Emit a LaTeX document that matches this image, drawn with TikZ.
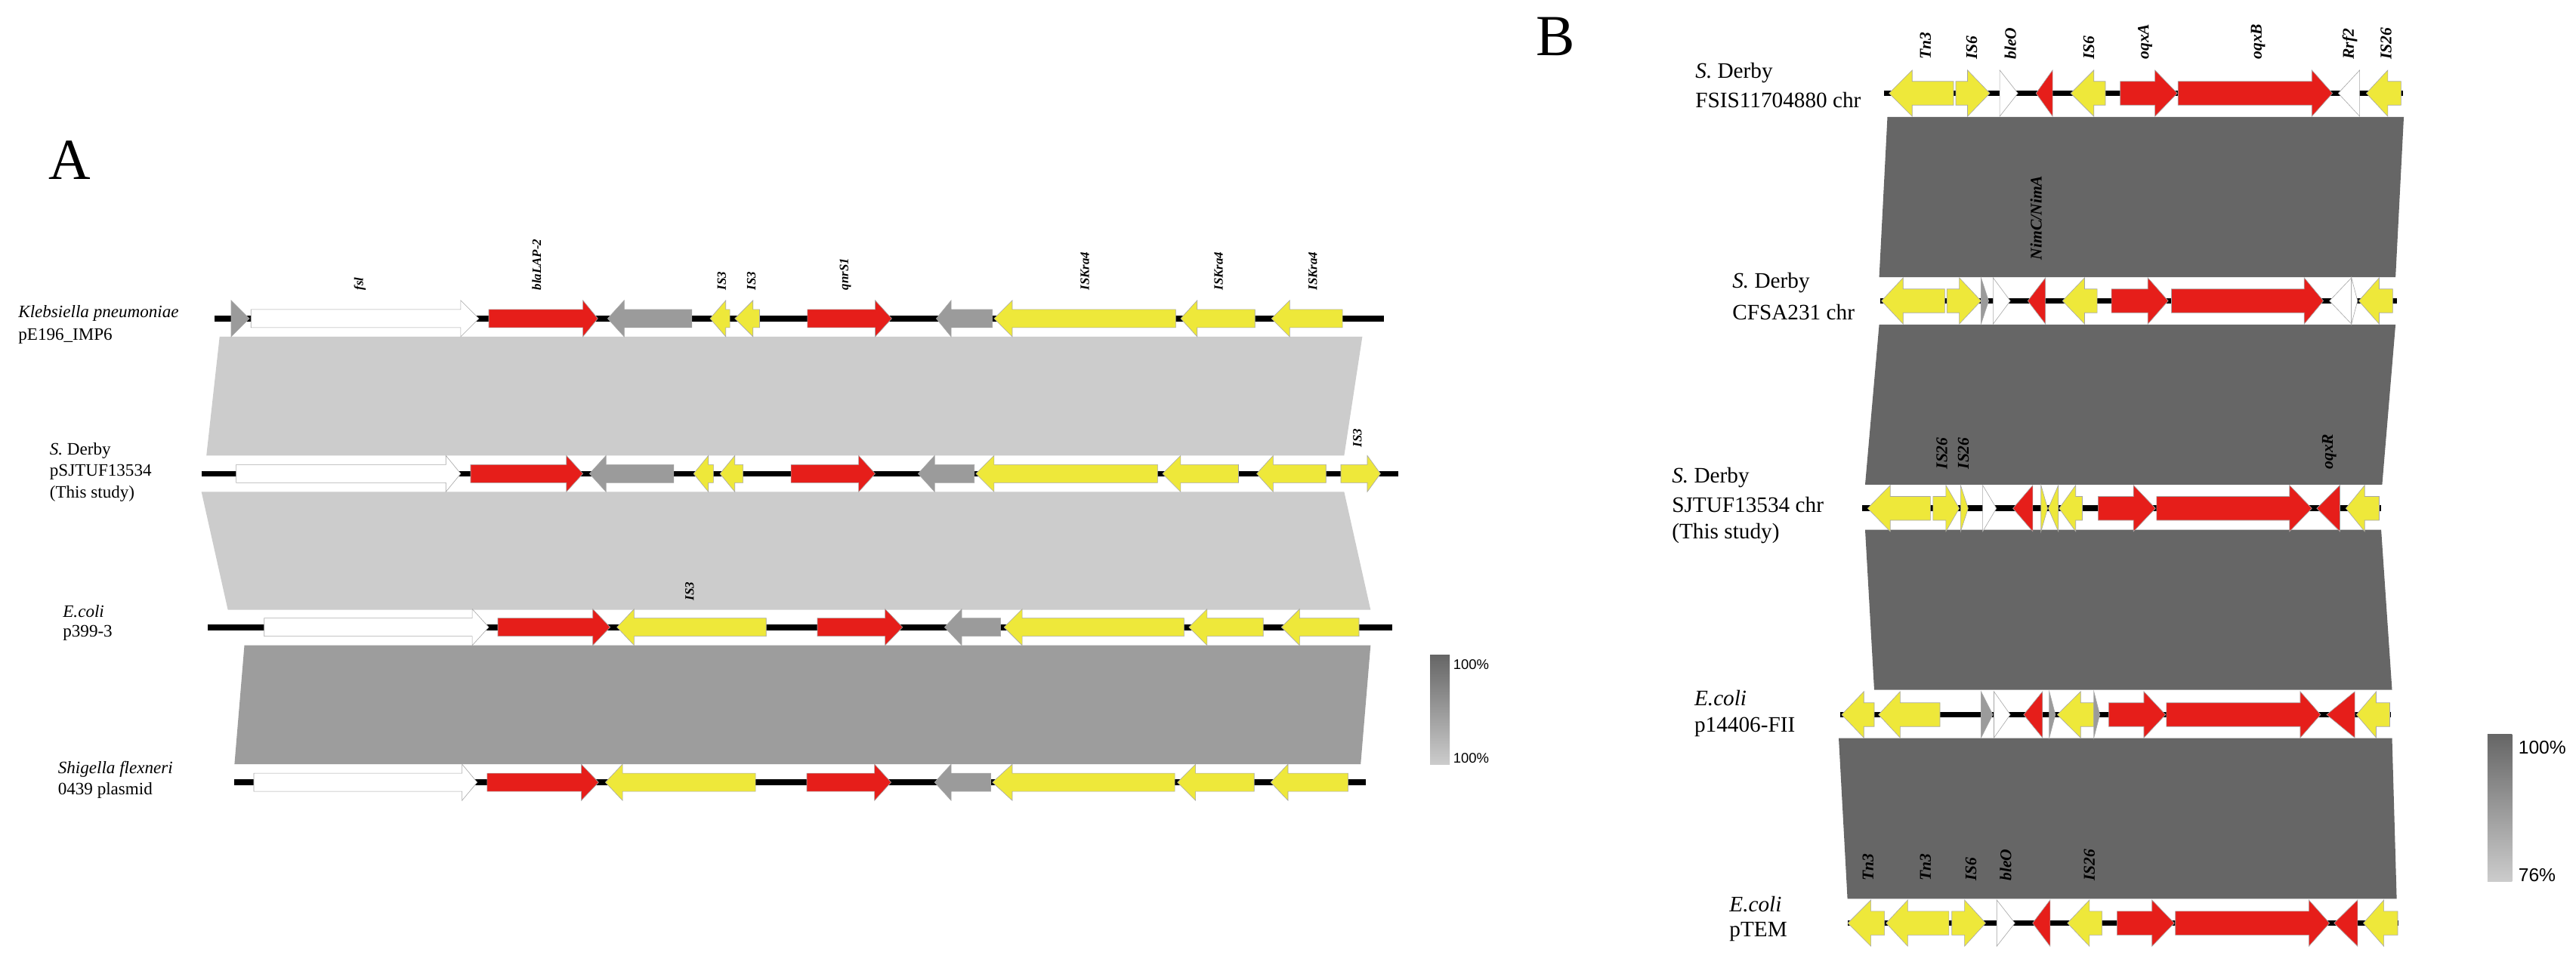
\documentclass[tikz,border=0pt]{standalone}
\usepackage{fontspec}
\setmainfont{Liberation Serif}
\newfontfamily\lsans{Liberation Sans}
\begin{document}
\begin{tikzpicture}[x=1.42pt,y=-1.42pt,
  genestyle/.style={draw=black!35,line width=0.4pt},
  backbone/.style={line width=5pt,black},
  glabA/.style={rotate=90,anchor=west,font=\fontsize{11}{11}\selectfont\bfseries\itshape,inner sep=0pt},
  glabB/.style={rotate=90,anchor=west,font=\fontsize{14}{14}\selectfont\bfseries\itshape,inner sep=0pt},
  rlabA/.style={anchor=west,font=\fontsize{15}{15}\selectfont,inner sep=0pt},
  rlabB/.style={anchor=west,font=\fontsize{19}{19}\selectfont,inner sep=0pt}]
\definecolor{gred}{HTML}{E61E1A}
\definecolor{gyel}{HTML}{EEE83A}
\definecolor{ggry}{HTML}{9B9B9B}
\definecolor{bandL}{HTML}{CCCCCC}
\definecolor{bandM}{HTML}{9D9D9D}
\definecolor{bandD}{HTML}{666666}
\newcommand\genearrow[5]{\filldraw[genestyle,fill=#5] (#1,#4-\gB)--(#2,#4-\gB)--(#2,#4-\gH)--(#3,#4)--(#2,#4+\gH)--(#2,#4+\gB)--(#1,#4+\gB)--cycle;}
\useasboundingbox[fill=white] (0,0) rectangle (1560,588);
% ---------------- Panel A ----------------
\def\gH{11}\def\gB{5.5}
\node[font=\fontsize{50}{50}\selectfont] (labA) at (42,97) {A};
\fill[bandL] (133,204)--(825,204)--(814,276)--(125,276)--cycle;
\fill[bandL] (122,298)--(814,298)--(830,369.5)--(138,369.5)--cycle;
\fill[bandM] (148,391)--(830,391)--(824,463)--(142,463)--cycle;
% row 1
\draw[backbone] (130,193)--(838,193);
\genearrow{140}{140}{151}{193}{ggry}
\genearrow{152}{279}{290}{193}{white}
\genearrow{296}{353}{362}{193}{gred}
\genearrow{419}{378}{368}{193}{ggry}
\genearrow{442}{439.5}{430}{193}{gyel}
\genearrow{460}{456}{445}{193}{gyel}
\genearrow{489}{530}{540}{193}{gred}
\genearrow{601}{576}{567}{193}{ggry}
\genearrow{712}{613}{602}{193}{gyel}
\genearrow{760}{725}{715}{193}{gyel}
\genearrow{813}{781}{770}{193}{gyel}
\node[glabA] (a1) at (218,176) {fsl};
\node[glabA] (a2) at (325,176) {blaLAP-2};
\node[glabA] (a3) at (437,176) {IS3};
\node[glabA] (a4) at (455,176) {IS3};
\node[glabA] (a5) at (512,176) {qnrS1};
\node[glabA] (a6) at (657,176) {ISKra4};
\node[glabA] (a7) at (738,176) {ISKra4};
\node[glabA] (a8) at (795,176) {ISKra4};
\node[rlabA] (r1a) at (11,190) {\itshape Klebsiella pneumoniae};
\node[rlabA] (r1b) at (11,203.5) {pE196\_IMP6};
% row 2
\draw[backbone] (122,287)--(847,287);
\genearrow{143}{270}{279}{287}{white}
\genearrow{285}{343}{353}{287}{gred}
\genearrow{408}{367}{357}{287}{ggry}
\genearrow{432}{429}{420}{287}{gyel}
\genearrow{450}{445}{436}{287}{gyel}
\genearrow{479}{520}{530}{287}{gred}
\genearrow{590}{566}{556}{287}{ggry}
\genearrow{701}{602}{591}{287}{gyel}
\genearrow{750}{715}{704}{287}{gyel}
\genearrow{803}{771}{761}{287}{gyel}
\genearrow{812}{828}{836}{287}{gyel}
\node[glabA] (a9) at (822,271) {IS3};
\node[rlabA] (r2a) at (30,273) {\textit{S.} Derby};
\node[rlabA] (r2b) at (30,286) {pSJTUF13534};
\node[rlabA] (r2c) at (30,299) {(This study)};
% row 3
\draw[backbone] (126,380)--(843,380);
\genearrow{160}{286}{296}{380}{white}
\genearrow{301.5}{359}{369.5}{380}{gred}
\genearrow{464}{384}{373.6}{380}{gyel}
\genearrow{495}{536}{546.6}{380}{gred}
\genearrow{606}{582.4}{572}{380}{ggry}
\genearrow{717}{619}{608}{380}{gyel}
\genearrow{765}{731}{720}{380}{gyel}
\genearrow{823}{787}{776}{380}{gyel}
\node[glabA] (a10) at (417.6,364) {IS3};
\node[rlabA] (r3a) at (38,370.5) {\itshape E.coli};
\node[rlabA] (r3b) at (38,383.5) {p399-3};
% row 4
\draw[backbone] (142,474)--(827,474);
\genearrow{153.7}{279.8}{289}{474}{white}
\genearrow{295}{352}{362.5}{474}{gred}
\genearrow{457.5}{377}{366.6}{474}{gyel}
\genearrow{488.6}{529.6}{539.6}{474}{gred}
\genearrow{600}{576}{566}{474}{ggry}
\genearrow{711.4}{613}{601}{474}{gyel}
\genearrow{759.5}{724}{713}{474}{gyel}
\genearrow{816.4}{780}{769.5}{474}{gyel}
\node[rlabA] (r4a) at (35,466) {\itshape Shigella flexneri};
\node[rlabA] (r4b) at (35,479) {0439 plasmid};
% legend A
\shade[top color=bandD,bottom color=bandL] (866,397) rectangle (878,463);
\node[anchor=west,inner sep=0pt,font=\lsans\fontsize{12}{12}\selectfont] (legA1) at (880,402.5) {100\%};
\node[anchor=west,inner sep=0pt,font=\lsans\fontsize{12}{12}\selectfont] (legA2) at (880,459.5) {100\%};
% ---------------- Panel B ----------------
\def\gH{14}\def\gB{7.2}
\node[font=\fontsize{50}{50}\selectfont] (labB) at (942,22) {B};
\fill[bandD] (1143,70.8)--(1455.7,70.8)--(1450.7,168)--(1138,168)--cycle;
\fill[bandD] (1138,196.7)--(1450.7,196.7)--(1442.6,293.6)--(1129.5,293.6)--cycle;
\fill[bandD] (1129.5,321)--(1442,321)--(1448.6,418)--(1135,418)--cycle;
\fill[bandD] (1113.5,447.2)--(1448.6,447.2)--(1451.4,544.6)--(1118.8,544.6)--cycle;
% B1
\draw[backbone] (1141,56.5)--(1455,56.5);
\genearrow{1183}{1158}{1144}{56.5}{gyel}
\genearrow{1184.4}{1191.5}{1205}{56.5}{gyel}
\genearrow{1211}{1211}{1222}{56.5}{white}
\genearrow{1243}{1243}{1233}{56.5}{gred}
\genearrow{1275}{1268}{1254}{56.5}{gyel}
\genearrow{1284}{1305}{1318.5}{56.5}{gred}
\genearrow{1319}{1400}{1412.5}{56.5}{gred}
\genearrow{1429}{1429}{1416}{56.5}{white}
\genearrow{1454}{1446}{1433}{56.5}{gyel}
\node[glabB] (b1) at (1166,36) {Tn3};
\node[glabB] (b2) at (1194,36) {IS6};
\node[glabB] (b3) at (1217.4,36) {bleO};
\node[glabB] (b4) at (1265,36) {IS6};
\node[glabB] (b5) at (1299,36) {oqxA};
\node[glabB] (b6) at (1367.4,36) {oqxB};
\node[glabB] (b7) at (1423,36) {Rrf2};
\node[glabB] (b8) at (1445,36) {IS26};
\node[rlabB] (s1a) at (1026.6,44) {\textit{S.} Derby};
\node[rlabB] (s1b) at (1026.6,60.5) {FSIS11704880 chr};
\node[glabB,anchor=center] (b9) at (1233,132) {NimC/NimA};
% B2
\draw[backbone] (1138.7,182.3)--(1451.5,182.3);
\genearrow{1177.7}{1152.5}{1139.4}{182.3}{gyel}
\genearrow{1179}{1186.5}{1199.7}{182.3}{gyel}
\genearrow{1199.7}{1199.7}{1204.3}{182.3}{ggry}
\genearrow{1207}{1207}{1217.4}{182.3}{white}
\genearrow{1238.7}{1238.7}{1228}{182.3}{gred}
\genearrow{1270}{1262.4}{1249}{182.3}{gyel}
\genearrow{1278.7}{1300.7}{1313}{182.3}{gred}
\genearrow{1315}{1395.4}{1407}{182.3}{gred}
\genearrow{1424}{1424}{1410.7}{182.3}{white}
\genearrow{1424}{1424}{1427.7}{182.3}{white}
\genearrow{1449}{1440.8}{1428.4}{182.3}{gyel}
\node[rlabB] (s2a) at (1049,171.5) {\textit{S.} Derby};
\node[rlabB] (s2b) at (1049,189) {CFSA231 chr};
\node[glabB] (b10) at (1176,284.4) {IS26};
\node[glabB] (b11) at (1189,284.4) {IS26};
\node[glabB] (b12) at (1410.6,284.4) {oqxR};
% B3
\draw[backbone] (1127.7,308)--(1442,308);
\genearrow{1169}{1144.7}{1131}{308}{gyel}
\genearrow{1170.6}{1178.4}{1186.5}{308}{gyel}
\genearrow{1187.3}{1187.3}{1191.9}{308}{gyel}
\genearrow{1200.7}{1200.7}{1209}{308}{white}
\genearrow{1231}{1231}{1219}{308}{gred}
\genearrow{1236}{1236}{1240}{308}{gyel}
\genearrow{1246.5}{1246.5}{1240.4}{308}{gyel}
\genearrow{1261}{1257}{1247}{308}{gyel}
\genearrow{1270.6}{1292}{1305.3}{308}{gred}
\genearrow{1306}{1386.5}{1400}{308}{gred}
\genearrow{1417}{1417}{1403}{308}{gred}
\genearrow{1440.8}{1432}{1420.6}{308}{gyel}
\node[rlabB] (s3a) at (1012.4,289.5) {\textit{S.} Derby};
\node[rlabB] (s3b) at (1012.4,306) {SJTUF13534 chr};
\node[rlabB] (s3c) at (1012.4,323) {(This study)};
% B4
\draw[backbone] (1114.6,433)--(1448,433);
\genearrow{1135}{1128.7}{1115.3}{433}{gyel}
\genearrow{1174.8}{1150.7}{1137.6}{433}{gyel}
\genearrow{1199.7}{1199.7}{1206.8}{433}{ggry}
\genearrow{1207.5}{1207.5}{1217.4}{433}{white}
\genearrow{1236.9}{1236.9}{1225.5}{433}{gred}
\genearrow{1241}{1241}{1244.7}{433}{ggry}
\genearrow{1268}{1260}{1245.8}{433}{gyel}
\genearrow{1268}{1268}{1271.6}{433}{ggry}
\genearrow{1277}{1298.3}{1311.4}{433}{gred}
\genearrow{1312}{1393}{1405.3}{433}{gred}
\genearrow{1426}{1426}{1409}{433}{gred}
\genearrow{1447.2}{1439}{1427}{433}{gyel}
\node[rlabB] (s4a) at (1026,423) {\itshape E.coli};
\node[rlabB] (s4b) at (1026,440.7) {p14406-FII};
\node[glabB] (b13) at (1131.2,533.8) {Tn3};
\node[glabB] (b14) at (1166,533.8) {Tn3};
\node[glabB] (b15) at (1193.6,533.8) {IS6};
\node[glabB] (b16) at (1214.6,533.8) {bleO};
\node[glabB] (b17) at (1265.3,533.8) {IS26};
% B5
\draw[backbone] (1119,559.3)--(1452.5,559.3);
\genearrow{1141.2}{1133}{1119}{559.3}{gyel}
\genearrow{1180.2}{1155.3}{1142.2}{559.3}{gyel}
\genearrow{1182}{1189.7}{1202.5}{559.3}{gyel}
\genearrow{1209.2}{1209.2}{1220.2}{559.3}{white}
\genearrow{1241.5}{1241.5}{1230.9}{559.3}{gred}
\genearrow{1273}{1265.3}{1252}{559.3}{gyel}
\genearrow{1282}{1303.2}{1316.7}{559.3}{gred}
\genearrow{1317.4}{1398.2}{1410.7}{559.3}{gred}
\genearrow{1427.7}{1427.7}{1413.5}{559.3}{gred}
\genearrow{1452}{1443.6}{1431.2}{559.3}{gyel}
\node[rlabB] (s5a) at (1047.2,547.8) {\itshape E.coli};
\node[rlabB] (s5b) at (1047.2,564.5) {pTEM};
% legend B
\shade[top color=bandD,bottom color=bandL] (1506.4,445) rectangle (1521.3,534);
\node[anchor=west,inner sep=0pt,font=\lsans\fontsize{16}{16}\selectfont] (legB1) at (1525,453) {100\%};
\node[anchor=west,inner sep=0pt,font=\lsans\fontsize{16}{16}\selectfont] (legB2) at (1525,530) {76\%};
\end{tikzpicture}
\end{document}
